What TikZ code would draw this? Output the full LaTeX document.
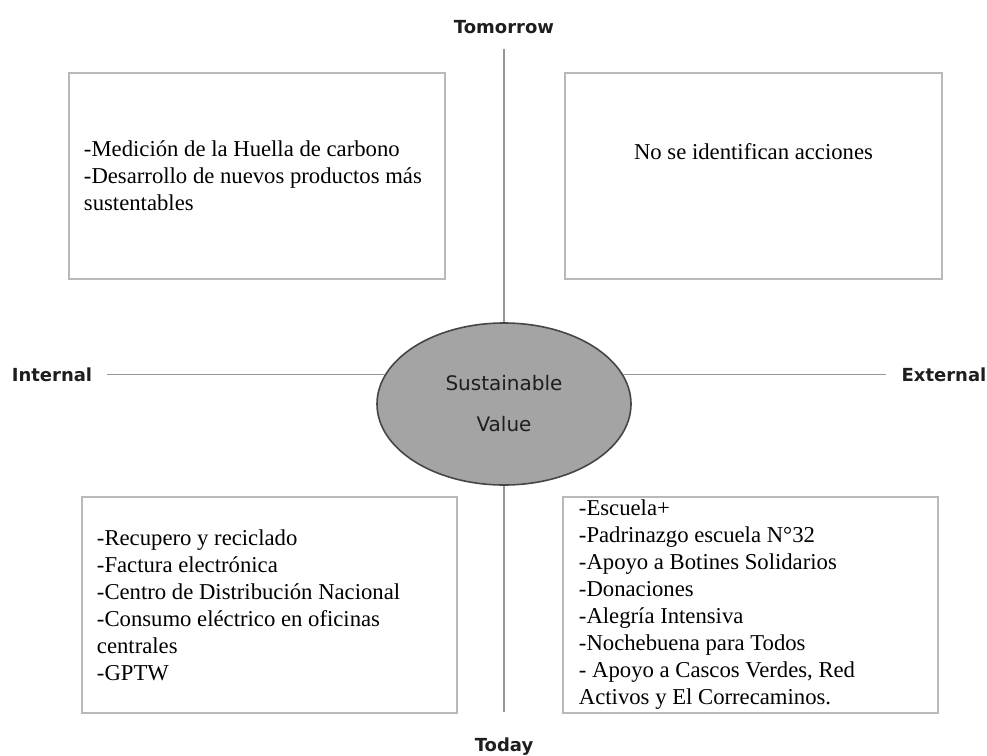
\documentclass[tikz,border=0pt]{standalone}
\usepackage{fontspec}
\setmainfont{Liberation Serif}
\newfontfamily\axisfont{DejaVu Sans}
\usetikzlibrary{positioning, shapes.geometric}
\definecolor{boxgray}{RGB}{185,185,185}
\definecolor{axisgray}{RGB}{150,150,150}
\definecolor{valuefill}{RGB}{164,164,164}
\definecolor{valuedraw}{RGB}{70,70,70}
\definecolor{labeltext}{RGB}{30,30,30}

\begin{document}
\begin{tikzpicture}[
            x=1pt, y=-1pt,
            quadrant/.style={rectangle, draw=boxgray, line width=2.5pt},
            entries/.style={inner sep=0pt, align=left,
                            font=\fontsize{22.7}{27}\selectfont},
            axislabel/.style={inner sep=2pt, text=labeltext,
                              font=\axisfont\bfseries\fontsize{18}{20}\selectfont},
            axis/.style={draw=axisgray, line width=1.6pt},
            value/.style={ellipse, draw=valuedraw, line width=1.6pt, fill=valuefill,
                          minimum width=254pt, minimum height=162pt, align=center,
                          text=labeltext, font=\axisfont\fontsize{20}{41}\selectfont},
        ]
            \useasboundingbox (0,0) rectangle (987,755);

            \node[value] (sv) at (504,404) {Sustainable\\Value};

            \node[axislabel] (tomorrow) at (504,27) {Tomorrow};
            \node[axislabel] (today) at (504,747) {Today};
            \node[axislabel] (internal) at (sv.166 -| 52,0) {Internal};
            \node[axislabel] (external) at (sv.14 -| 944,0) {External};

            \draw[axis, shorten <=13pt] (tomorrow) -- (sv);
            \draw[axis, shorten >=24pt] (sv) -- (today);
            \draw[axis, shorten <=13pt] (internal.east) -- (sv.166);
            \draw[axis, shorten >=13pt] (sv.14) -- (external.west);

            \node[quadrant, minimum width=376pt, minimum height=206pt] (tl) at (257,176) {};
            \node[quadrant, minimum width=377pt, minimum height=206pt] (tr) at (753.5,176) {};
            \node[quadrant, minimum width=375pt, minimum height=216pt] (bl) at (269.5,605) {};
            \node[quadrant, minimum width=375pt, minimum height=216pt] (br) at (750.5,605) {};

            \node[entries, right=16pt of tl.west] (tltext) {-Medición de la Huella de carbono\\-Desarrollo de nuevos productos más\\sustentables};
            \node[entries] (trtext) at ([yshift=24pt]tr.center) {No se identifican acciones};
            \node[entries, right=16pt of bl.west] (bltext) {-Recupero y reciclado\\-Factura electrónica\\-Centro de Distribución Nacional\\-Consumo eléctrico en oficinas\\centrales\\-GPTW};
            \node[entries, right=17pt of br.west] (brtext) {-Escuela+\\-Padrinazgo escuela N°32\\-Apoyo a Botines Solidarios\\-Donaciones\\-Alegría Intensiva\\-Nochebuena para Todos\\- Apoyo a Cascos Verdes, Red\\Activos y El Correcaminos.};
        \end{tikzpicture}
\end{document}
